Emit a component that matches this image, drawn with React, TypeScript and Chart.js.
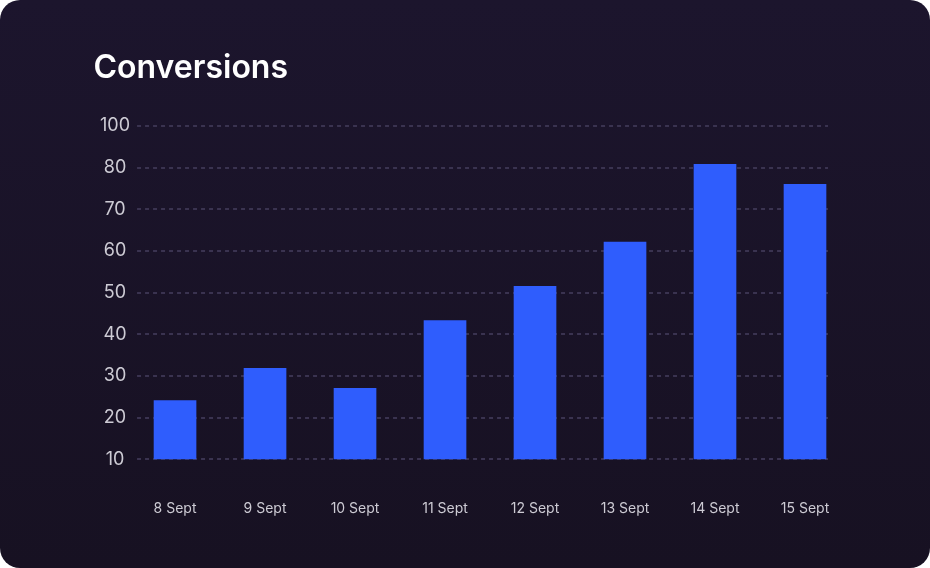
import { useEffect, useRef } from "react";
import { Chart, registerables } from "chart.js";
import type { Plugin } from "chart.js";

Chart.register(...registerables);

const DAYS = ["8 Sept", "9 Sept", "10 Sept", "11 Sept", "12 Sept", "13 Sept", "14 Sept", "15 Sept"];
const CONVERSIONS = [24.1, 31.8, 27, 43.3, 51.5, 62.1, 80.8, 76];
// the top gridline is labelled 100 in the source, not 90
const Y_TICK_LABELS = ["10", "20", "30", "40", "50", "60", "70", "80", "100"];

const BAR_COLOR = "#2f5dfd";
const GRID_COLOR = "#3a3350";
const TICK_COLOR = "#cdcbd4";
const FONT = "Inter, 'Noto Sans', sans-serif";

// dashed horizontal lines, a little shorter than the category band
const dashedGrid: Plugin<"bar"> = {
  id: "dashedGrid",
  beforeDatasetsDraw(chart) {
    const { ctx, chartArea, scales } = chart;
    const y = scales.y;
    ctx.save();
    ctx.strokeStyle = GRID_COLOR;
    ctx.lineWidth = 2;
    ctx.setLineDash([4, 4]);
    y.ticks.forEach((t) => {
      const py = Math.round(y.getPixelForValue(t.value));
      ctx.beginPath();
      ctx.moveTo(chartArea.left + 7, py);
      ctx.lineTo(chartArea.right - 22, py);
      ctx.stroke();
    });
    ctx.restore();
  },
};

function ConversionsChart() {
  const canvasRef = useRef<HTMLCanvasElement>(null);

  useEffect(() => {
    if (!canvasRef.current) return;
    const chart = new Chart(canvasRef.current, {
      type: "bar",
      data: {
        labels: DAYS,
        datasets: [
          {
            label: "Conversions",
            data: CONVERSIONS,
            backgroundColor: BAR_COLOR,
            borderWidth: 0,
            barThickness: 42,
          },
        ],
      },
      options: {
        responsive: false,
        animation: false,
        layout: { padding: { left: 100, right: 80, top: 126, bottom: 10 } },
        plugins: {
          legend: { display: false },
          tooltip: { enabled: false },
        },
        scales: {
          x: {
            grid: { display: false, drawTicks: false },
            border: { display: false },
            ticks: {
              color: TICK_COLOR,
              font: { family: FONT, size: 14 },
              padding: 41,
              maxRotation: 0,
            },
          },
          y: {
            min: 10,
            max: 90,
            grid: { display: false, drawTicks: false },
            border: { display: false },
            ticks: {
              stepSize: 10,
              color: TICK_COLOR,
              font: { family: FONT, size: 18 },
              padding: 0,
              crossAlign: "center",
              callback: (_v: number | string, i: number) => Y_TICK_LABELS[i],
            },
          },
        },
      },
      plugins: [dashedGrid],
    });
    return () => chart.destroy();
  }, []);

  return <canvas ref={canvasRef} width={930} height={568} style={{ display: "block" }} />;
}

export default function App() {
  useEffect(() => {
    document.body.style.margin = "0";
  }, []);

  return (
    <div
      style={{
        position: "relative",
        width: 930,
        height: 568,
        borderRadius: 20,
        overflow: "hidden",
        background: "linear-gradient(180deg, #1c152d 0%, #171122 100%)",
      }}
    >
      <div
        style={{
          position: "absolute",
          left: 93.5,
          top: 50.5,
          margin: 0,
          color: "#ffffff",
          fontFamily: FONT,
          fontSize: 32,
          fontWeight: 600,
          lineHeight: "32px",
        }}
      >
        Conversions
      </div>
      <ConversionsChart />
    </div>
  );
}
